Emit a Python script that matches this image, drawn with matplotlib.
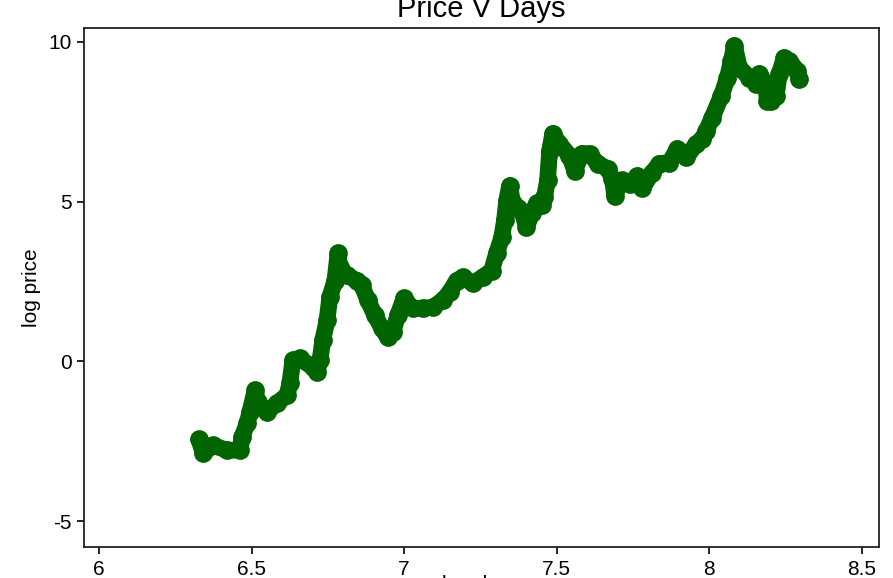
import matplotlib
matplotlib.use("Agg")
import matplotlib.pyplot as plt

plt.rcParams['font.family'] = ['Liberation Sans', 'DejaVu Sans']

# log days / log price
log_days = [6.327, 6.341, 6.373, 6.419, 6.462, 6.468, 6.485, 6.494, 6.511, 6.521,
            6.550, 6.583, 6.616, 6.625, 6.635, 6.658, 6.701, 6.714, 6.724, 6.733,
            6.747, 6.756, 6.773, 6.783, 6.789, 6.812, 6.845, 6.861, 6.881, 6.904,
            6.927, 6.946, 6.963, 6.979, 6.999, 7.028, 7.061, 7.094, 7.126, 7.149,
            7.172, 7.192, 7.225, 7.257, 7.287, 7.303, 7.320, 7.329, 7.336, 7.346,
            7.356, 7.372, 7.388, 7.401, 7.418, 7.434, 7.451, 7.460, 7.470, 7.477,
            7.487, 7.509, 7.542, 7.559, 7.582, 7.608, 7.634, 7.667, 7.683, 7.690,
            7.713, 7.739, 7.765, 7.781, 7.811, 7.837, 7.870, 7.896, 7.925, 7.958,
            7.978, 7.991, 8.010, 8.040, 8.060, 8.073, 8.083, 8.099, 8.132, 8.155,
            8.164, 8.184, 8.191, 8.204, 8.220, 8.230, 8.246, 8.263, 8.289, 8.295]
log_price = [-2.44, -2.88, -2.63, -2.78, -2.78, -2.38, -1.94, -1.59, -0.91, -1.28,
             -1.59, -1.31, -1.06, -0.69, 0.03, 0.09, -0.19, -0.34, 0.03, 0.66,
             1.28, 2.00, 2.53, 3.38, 2.94, 2.69, 2.53, 2.38, 1.91, 1.44,
             1.03, 0.75, 0.91, 1.44, 1.97, 1.66, 1.66, 1.69, 1.91, 2.16,
             2.53, 2.63, 2.44, 2.63, 2.84, 3.38, 3.88, 4.41, 5.03, 5.50,
             4.94, 4.81, 4.66, 4.19, 4.63, 4.94, 4.88, 5.13, 5.66, 6.59,
             7.13, 6.81, 6.44, 5.97, 6.50, 6.50, 6.19, 6.03, 5.72, 5.19,
             5.66, 5.56, 5.81, 5.41, 5.88, 6.19, 6.22, 6.66, 6.38, 6.81,
             6.97, 7.22, 7.63, 8.31, 8.88, 9.41, 9.88, 9.19, 8.88, 8.69,
             9.00, 8.72, 8.16, 8.16, 8.31, 9.00, 9.50, 9.41, 9.09, 8.84]

xticks = [6, 6.5, 7, 7.5, 8, 8.5]
yticks = [-5, 0, 5, 10]

fig = plt.figure(figsize=(8.93, 5.78), dpi=100)
left, right, bottom, top = 0.094, 0.984, 0.0536, 0.952
ax = fig.add_axes([left, bottom, right - left, top - bottom])

green = '#006400'
ax.plot(log_days, log_price, color=green, lw=12, solid_capstyle='round',
        solid_joinstyle='round', marker='o', markersize=13.5, markeredgewidth=0)

ax.set_xlim(5.95, 8.556)
ax.set_ylim(-5.81, 10.44)
ax.set_xticks(xticks)
ax.set_xticklabels(['6', '6.5', '7', '7.5', '8', '8.5'])
ax.set_yticks(yticks)
ax.set_yticklabels(['-5', '0', '5', '10'])
ax.tick_params(direction='out', length=5, width=1.2, labelsize=15, pad=4, colors='black')
for s in ax.spines.values():
    s.set_linewidth(1.3)
    s.set_color('#222222')

ax.set_ylabel('log price', fontsize=15, labelpad=5)
fig.text((left + right) / 2, 0.971, 'Price V Days', ha='center', va='baseline', fontsize=21)
fig.text((left + right) / 2, -0.021, 'log days', ha='center', va='baseline', fontsize=15)

plt.savefig('out.png', dpi=100)
